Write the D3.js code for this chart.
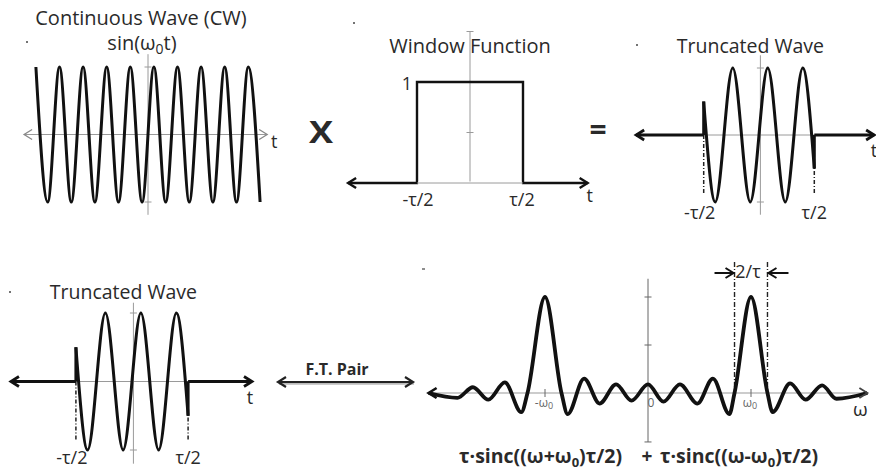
<!DOCTYPE html>
<html>
<head>
<meta charset="utf-8">
<script src="https://cdn.jsdelivr.net/npm/d3@7"></script>
<style>
  html, body { margin: 0; padding: 0; background: #fff; }
  svg { display: block; }
  text { font-family: "Open Sans", Lato, sans-serif; fill: #2a2a2a; }
</style>
</head>
<body>
<svg id="chart" width="876" height="471"></svg>
<script>
// continuous wave sin(w0 t): extrema, t in periods of w0
var cwT = [-4.75, -4.25, -3.75, -3.25, -2.75, -2.25, -1.75, -1.25, -0.75, -0.25,
           0.25, 0.75, 1.25, 1.75, 2.25, 2.75, 3.25, 3.75, 4.25, 4.75];
var cwV = [1, -1, 1, -1, 1, -1, 1, -1, 1, -1,
           1, -1, 1, -1, 1, -1, 1, -1, 1, -1];

// window function: edges (units of tau) and level
var windowEdges = [-0.5, 0.5];
var windowLevel = 1;
var windowLabels = ["-τ/2", "τ/2"];

// truncated wave: cut ends and extrema, t in periods of w0
var truncT = [-1.58, -1.25, -0.75, -0.25, 0.25, 0.75, 1.25, 1.58];
var truncV = [0.5, -1, 1, -1, 1, -1, 1, -0.5];

// spectrum: extrema and main lobe nulls, omega in units of w0
var sincW = [-2.13, -1.85, -1.70, -1.55, -1.39, -1.23, -1.17, -1.00, -0.84, -0.78,
             -0.62, -0.47, -0.31, -0.16, 0.00, 0.15, 0.31, 0.48, 0.63, 0.79,
             0.84, 1.00, 1.16, 1.21, 1.38, 1.53, 1.69, 1.83, 2.13];
var sincV = [0.00, -0.05, 0.06, -0.07, 0.11, -0.20, 0.00, 1.00, 0.00, -0.22,
             0.15, -0.11, 0.09, -0.08, 0.09, -0.09, 0.09, -0.11, 0.15, -0.22,
             0.00, 1.00, 0.00, -0.20, 0.10, -0.07, 0.08, -0.06, 0.00];
var sincTicks = [-1, 0, 1];
var sincTickLabels = ["-ω", "0", "ω"];
var lobeMarks = [0.84, 1.16];

var svg = d3.select("#chart");
var AXIS = "#9a9a9a";

function pts(xs, ys) {
  return xs.map(function (x, i) { return [x, ys[i]]; });
}

function lineGen(x, y, curve) {
  return d3.line()
    .x(function (d) { return x(d[0]); })
    .y(function (d) { return y(d[1]); })
    .curve(curve || d3.curveLinear);
}

function chevron(g, px, py, dir, color, width) {
  g.append("path")
    .attr("d", "M" + (px - dir * 8) + "," + (py - 5) + "L" + px + "," + py + "L" + (px - dir * 8) + "," + (py + 5))
    .attr("fill", "none").attr("stroke", color).attr("stroke-width", width)
    .attr("stroke-linejoin", "miter");
}

function vAxis(g, x, y, x0, top, bottom, ticks, color) {
  g.append("line")
    .attr("x1", x(x0)).attr("x2", x(x0))
    .attr("y1", y(top)).attr("y2", y(bottom))
    .attr("stroke", color || AXIS).attr("stroke-width", 1);
  ticks.forEach(function (t) {
    g.append("line")
      .attr("x1", x(x0) - 3.5).attr("x2", x(x0) + 3.5)
      .attr("y1", y(t)).attr("y2", y(t))
      .attr("stroke", color || AXIS).attr("stroke-width", 1);
  });
}

// parts: plain strings, or {s, dy, size} for a subscript
function label(g, px, py, parts, size, anchor, weight) {
  var t = g.append("text").attr("x", px).attr("y", py)
    .attr("font-size", size).attr("text-anchor", anchor || "middle")
    .attr("font-weight", weight || "normal");
  var back = 0;
  parts.forEach(function (p) {
    if (typeof p === "string") {
      var ts = t.append("tspan").text(p);
      if (back) { ts.attr("dy", -back); back = 0; }
    } else {
      t.append("tspan").attr("dy", p.dy).attr("font-size", p.size).text(p.s);
      back = p.dy;
    }
  });
  return t;
}

function dot(px, py) {
  svg.append("circle").attr("cx", px).attr("cy", py).attr("r", 1).attr("fill", "#444");
}

// ---- continuous wave ----
(function () {
  var g = svg.append("g");
  var x = d3.scaleLinear().domain([-1, 1]).range([148 - 23.6, 148 + 23.6]);
  var y = d3.scaleLinear().domain([-1, 1]).range([202, 67]);
  var ext = [-5.25, 5.05];

  g.append("line").attr("x1", x(ext[0])).attr("x2", x(ext[1]))
    .attr("y1", y(0)).attr("y2", y(0)).attr("stroke", AXIS).attr("stroke-width", 1.2);
  chevron(g, x(ext[0]), y(0), -1, "#888", 1.3);
  chevron(g, x(ext[1]), y(0), 1, "#888", 1.3);
  vAxis(g, x, y, 0, 1.19, -1.19, [1, -1]);

  g.append("path").datum(pts(cwT, cwV))
    .attr("d", lineGen(x, y, d3.curveMonotoneX))
    .attr("fill", "none").attr("stroke", "#111").attr("stroke-width", 3);

  label(g, 141, 25, ["Continuous Wave (CW)"], 20);
  label(g, 142, 50, ["sin(ω", {s: "0", dy: 4, size: 14}, "t)"], 20);
  label(g, x(ext[1]) + 7, 148, ["t"], 18);
})();

// ---- X and = ----
svg.append("text").attr("transform", "translate(321,143) scale(1.2,1)").attr("text-anchor", "middle")
  .attr("font-size", 30).attr("font-weight", "bold").text("X");
svg.append("text").attr("x", 598).attr("y", 140).attr("text-anchor", "middle")
  .attr("font-size", 30).attr("font-weight", "bold").text("=");

// ---- window function ----
(function () {
  var g = svg.append("g");
  var x = d3.scaleLinear().domain(windowEdges).range([417, 523]);
  var y = d3.scaleLinear().domain([0, windowLevel]).range([183, 82]);
  var ext = [-1.15, 1.11];

  g.append("line").attr("x1", x(ext[0])).attr("x2", x(ext[1]))
    .attr("y1", y(0)).attr("y2", y(0)).attr("stroke", AXIS).attr("stroke-width", 1);
  vAxis(g, x, y, 0, 1.5, 0, [1.5, 0.5]);

  var path = [[ext[0], 0], [windowEdges[0], 0], [windowEdges[0], windowLevel],
              [windowEdges[1], windowLevel], [windowEdges[1], 0], [ext[1], 0]];
  g.append("path").datum(path).attr("d", lineGen(x, y))
    .attr("fill", "none").attr("stroke", "#111").attr("stroke-width", 2.4);
  // bottom edge inside the window is only the grey axis
  g.append("line").attr("x1", x(windowEdges[0]) + 1.2).attr("x2", x(windowEdges[1]) - 1.2)
    .attr("y1", y(0)).attr("y2", y(0)).attr("stroke", "#fff").attr("stroke-width", 3);
  g.append("line").attr("x1", x(windowEdges[0])).attr("x2", x(windowEdges[1]))
    .attr("y1", y(0)).attr("y2", y(0)).attr("stroke", AXIS).attr("stroke-width", 1);
  chevron(g, x(ext[0]), y(0), -1, "#111", 2.4);
  chevron(g, x(ext[1]), y(0), 1, "#111", 2.4);

  label(g, 470, 53, ["Window Function"], 20);
  label(g, x(windowEdges[0]) - 5, y(windowLevel) + 8, ["1"], 18, "end");
  windowEdges.forEach(function (e, i) {
    label(g, x(e) + (i ? -1 : 1), 206, [windowLabels[i]], 18);
  });
  label(g, x(ext[1]) + 2, 202, ["t"], 18);
})();

// ---- truncated wave (drawn twice) ----
function truncated(cx, cy, amp, per, ext, vext, titleY, labelY, tx) {
  var g = svg.append("g");
  var x = d3.scaleLinear().domain([-1, 1]).range([cx - per, cx + per]);
  var y = d3.scaleLinear().domain([-1, 1]).range([cy + amp, cy - amp]);
  var a = truncT[0], b = truncT[truncT.length - 1];

  g.append("line").attr("x1", x(ext[0])).attr("x2", x(ext[1]))
    .attr("y1", y(0)).attr("y2", y(0)).attr("stroke", AXIS).attr("stroke-width", 1);
  vAxis(g, x, y, 0.04, vext[0], vext[1], [1, -1]);

  // label guides
  [a, b].forEach(function (e) {
    g.append("line").attr("x1", x(e)).attr("x2", x(e))
      .attr("y1", y(0)).attr("y2", y(-0.87))
      .attr("stroke", "#222").attr("stroke-width", 1.5).attr("stroke-dasharray", "4,2,1,2");
  });

  var s = [[ext[0], 0], [a, 0]];
  var e = [[b, 0], [ext[1], 0]];
  [s, e].forEach(function (seg) {
    g.append("path").datum(seg).attr("d", lineGen(x, y))
      .attr("fill", "none").attr("stroke", "#111").attr("stroke-width", 2.8);
  });
  [[a, truncV[0]], [b, truncV[truncV.length - 1]]].forEach(function (p) {
    g.append("line").attr("x1", x(p[0])).attr("x2", x(p[0]))
      .attr("y1", y(0)).attr("y2", y(p[1]))
      .attr("stroke", "#111").attr("stroke-width", 3);
  });
  g.append("path").datum(pts(truncT, truncV))
    .attr("d", lineGen(x, y, d3.curveMonotoneX))
    .attr("fill", "none").attr("stroke", "#111").attr("stroke-width", 3);

  chevron(g, x(ext[0]), y(0), -1, "#111", 2.8);
  chevron(g, x(ext[1]), y(0), 1, "#111", 2.8);

  label(g, x(0.04) - 10, titleY, ["Truncated Wave"], 19.5);
  label(g, x(a) - 4, labelY, ["-τ/2"], 18);
  label(g, x(b), labelY, ["τ/2"], 18);
  label(g, tx, y(0) + 22, ["t"], 18);
  return g;
}
truncated(759, 135, 67, 35, [-3.51, 3.29], [1.19, -1.19], 53, 219, 874);
truncated(132, 381.5, 68.5, 35.5, [-3.41, 3.38], [1.15, -1.2], 299, 464, 250);

// ---- F.T. pair ----
(function () {
  var g = svg.append("g");
  var x0 = 278, x1 = 413, yy = 382;
  g.append("line").attr("x1", x0 + 1).attr("x2", x1 + 1).attr("y1", yy + 1.5).attr("y2", yy + 1.5)
    .attr("stroke", "#bbb").attr("stroke-width", 2.5);
  g.append("line").attr("x1", x0).attr("x2", x1).attr("y1", yy).attr("y2", yy)
    .attr("stroke", "#222").attr("stroke-width", 2.2);
  chevron(g, x0, yy, -1, "#222", 2.2);
  chevron(g, x1, yy, 1, "#222", 2.2);
  label(g, 337, 375, ["F.T. Pair"], 16, "middle", "bold");
})();

// ---- spectrum ----
(function () {
  var g = svg.append("g");
  var x = d3.scaleLinear().domain([-1, 1]).range([545, 751]);
  var y = d3.scaleLinear().domain([0, 1]).range([393, 297]);
  var ext = [sincW[0], sincW[sincW.length - 1]];

  g.append("line").attr("x1", x(ext[0])).attr("x2", x(ext[1]))
    .attr("y1", y(0)).attr("y2", y(0)).attr("stroke", AXIS).attr("stroke-width", 1.2);
  vAxis(g, x, y, 0, 1.19, -0.51, [1, 0.5, -0.51], "#666");
  sincTicks.forEach(function (t, i) {
    if (t !== 0) {
      g.append("line").attr("x1", x(t)).attr("x2", x(t))
        .attr("y1", y(0) - 4).attr("y2", y(0) + 4).attr("stroke", "#666").attr("stroke-width", 1);
    }
    var parts = t === 0 ? ["0"] : [sincTickLabels[i], {s: "0", dy: 2, size: 9}];
    label(g, x(t) + (t === 0 ? 3 : -1), 407, parts, 12).style("fill", "#666")
      .selectAll("tspan").style("fill", "#666");
  });

  lobeMarks.forEach(function (m) {
    g.append("line").attr("x1", x(m)).attr("x2", x(m))
      .attr("y1", 262).attr("y2", y(0))
      .attr("stroke", "#222").attr("stroke-width", 1.4).attr("stroke-dasharray", "5,2,1,2");
  });
  g.append("path").datum(pts(sincW, sincV))
    .attr("d", lineGen(x, y, d3.curveMonotoneX))
    .attr("fill", "none").attr("stroke", "#111").attr("stroke-width", 3.8)
    .attr("stroke-linejoin", "round");
  chevron(g, x(ext[0]), y(0), -1, "#111", 2.6);
  chevron(g, x(ext[1]), y(0), 1, "#444", 1.8);

  // 2/tau width arrows
  var ay = 273;
  g.append("line").attr("x1", x(lobeMarks[0]) - 20).attr("x2", x(lobeMarks[0]) - 1)
    .attr("y1", ay).attr("y2", ay).attr("stroke", "#111").attr("stroke-width", 2);
  chevron(g, x(lobeMarks[0]) - 1, ay, 1, "#111", 2);
  g.append("line").attr("x1", x(lobeMarks[1]) + 21).attr("x2", x(lobeMarks[1]) + 1)
    .attr("y1", ay).attr("y2", ay).attr("stroke", "#111").attr("stroke-width", 2);
  chevron(g, x(lobeMarks[1]) + 1, ay, -1, "#111", 2);
  label(g, x(1) - 3, 278, ["2/τ"], 18);

  label(g, x(ext[1]) - 7, 416, ["ω"], 19);

  label(g, 622, 463, ["τ·sinc((ω+ω", {s: "0", dy: 4, size: 13}, ")τ/2)"], 19.5, "end", "bold");
  label(g, 647, 463, ["+"], 19, "middle", "bold");
  label(g, 660, 463, ["τ·sinc((ω-ω", {s: "0", dy: 4, size: 13}, ")τ/2)"], 19.5, "start", "bold");
})();

// stray marks in the source figure
dot(27, 42); dot(354, 23); dot(637, 45); dot(10, 292);
svg.append("line").attr("x1", 422).attr("x2", 425).attr("y1", 269).attr("y2", 269)
  .attr("stroke", "#444").attr("stroke-width", 1.2);
</script>
</body>
</html>
